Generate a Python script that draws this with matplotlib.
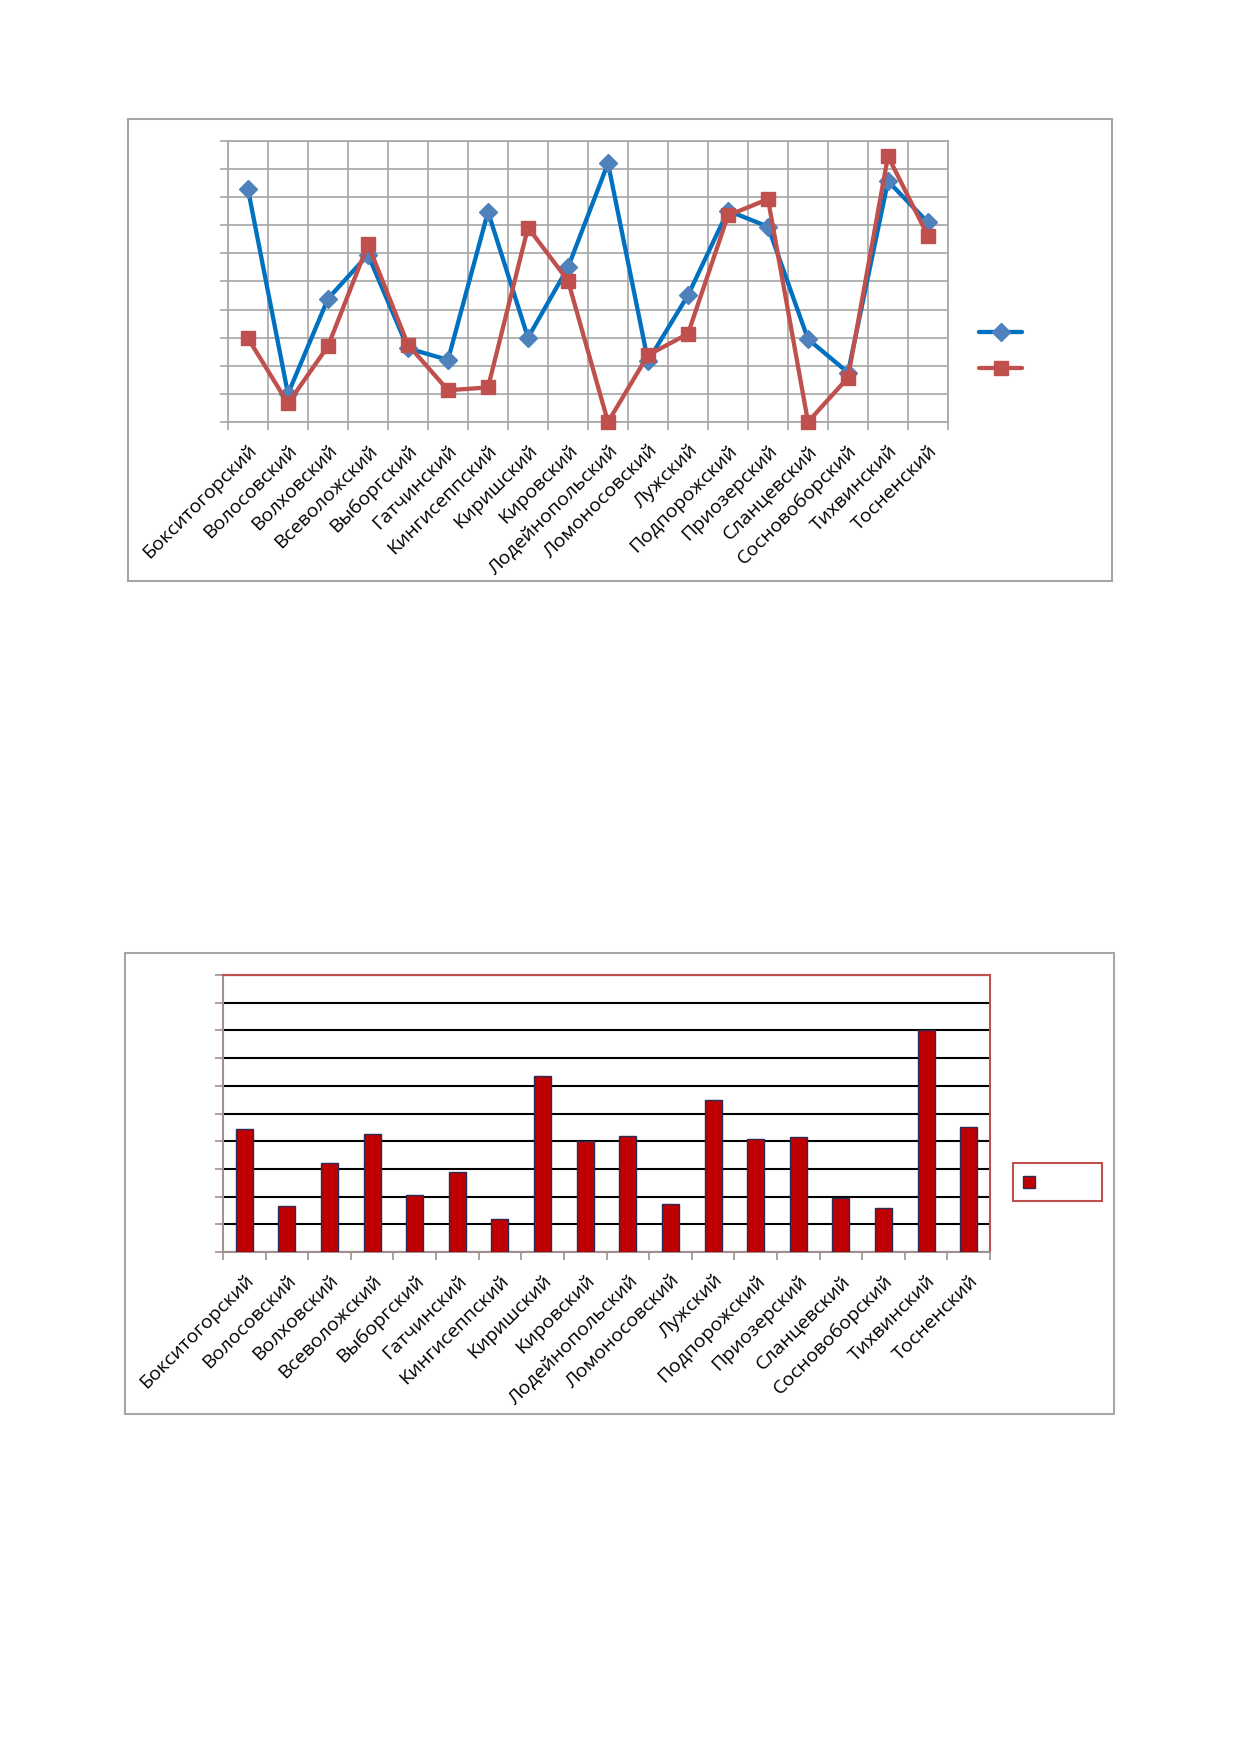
import matplotlib
matplotlib.use("Agg")
import matplotlib.pyplot as plt
from matplotlib.patches import Rectangle
from matplotlib.lines import Line2D
import numpy as np

plt.rcParams["font.family"] = ["Open Sans", "DejaVu Sans"]

# districts (same order on both charts)
districts = ["Бокситогорский", "Волосовский", "Волховский", "Всеволожский",
             "Выборгский", "Гатчинский", "Кингисеппский", "Киришский",
             "Кировский", "Лодейнопольский", "Ломоносовский", "Лужский",
             "Подпорожский", "Приозерский", "Сланцевский", "Сосновоборский",
             "Тихвинский", "Тосненский"]

# top chart, two series (no axis labels in the source, read in grid units)
series_blue = [8.28, 1.0, 4.39, 5.95, 2.62, 2.21, 7.48, 3.0, 5.5, 9.21,
               2.17, 4.51, 7.52, 6.95, 2.95, 1.76, 8.57, 7.1]
series_red = [2.98, 0.66, 2.7, 6.32, 2.75, 1.13, 1.23, 6.92, 5.03, 0.0,
              2.38, 3.14, 7.35, 7.93, 0.0, 1.58, 9.46, 6.62]

# bottom chart, one series
series_bars = [4.45, 1.65, 3.2, 4.25, 2.06, 2.88, 1.2, 6.35, 4.0, 4.19,
               1.74, 5.49, 4.07, 4.14, 1.94, 1.58, 8.01, 4.52]

W, H = 1239, 1752
fig = plt.figure(figsize=(W / 100, H / 100), dpi=100)


def px_axes(x0, y0, x1, y1):
    # axes from pixel box (top-left origin)
    return fig.add_axes([x0 / W, 1 - y1 / H, (x1 - x0) / W, (y1 - y0) / H])


def px_box(x0, y0, x1, y1, ec, lw=1.5, z=0):
    fig.patches.append(Rectangle((x0 / W, 1 - y1 / H), (x1 - x0) / W, (y1 - y0) / H,
                                 transform=fig.transFigure, facecolor="none",
                                 edgecolor=ec, linewidth=lw, zorder=z))


n = len(districts)
x = np.arange(n) + 0.5
grid_gray = "#a6a6a6"
lab_size = 14
lw_line = 3.1
ms_dia, ms_sq = 8.8, 10.5

# ---------------- top chart ----------------
px_box(128, 119, 1112, 581, grid_gray, lw=1.5)
ax = px_axes(228, 141, 948, 422)
ax.set_xlim(0, n)
ax.set_ylim(0, 10)
ax.set_xticks(np.arange(n + 1))
ax.set_xticklabels([])
ax.set_xticks(x, minor=True)
ax.set_xticklabels(districts, minor=True, rotation=45, ha="right", va="top",
                   rotation_mode="anchor", fontsize=lab_size)
ax.set_yticks(np.arange(11))
ax.set_yticklabels([])
ax.tick_params(which="major", length=6, width=1.2, color=grid_gray)
ax.tick_params(which="minor", length=0, pad=14)
ax.grid(True, which="major", color=grid_gray, linewidth=1.2)
ax.set_axisbelow(True)
for s in ax.spines.values():
    s.set_color(grid_gray)
    s.set_linewidth(1.2)

ax.plot(x, series_blue, color="#0070c0", linewidth=lw_line, marker="D",
        markersize=ms_dia, markerfacecolor="#4f81bd", markeredgecolor="#4f81bd",
        clip_on=False, zorder=3)
ax.plot(x, series_red, color="#c0504d", linewidth=lw_line, marker="s",
        markersize=ms_sq, markerfacecolor="#c0504d", markeredgecolor="#c0504d",
        clip_on=False, zorder=4)

# legend samples, no text
for yy, col, mk, mc, ms in [(332, "#0070c0", "D", "#4f81bd", ms_dia),
                            (368, "#c0504d", "s", "#c0504d", ms_sq)]:
    fig.lines.append(Line2D([979 / W, 1022 / W], [1 - yy / H, 1 - yy / H],
                            transform=fig.transFigure, color=col, linewidth=lw_line,
                            solid_capstyle="round"))
    fig.lines.append(Line2D([1000.5 / W], [1 - yy / H], transform=fig.transFigure,
                            marker=mk, markersize=ms, color=mc, linestyle="none"))

# ---------------- bottom chart ----------------
px_box(125, 953, 1114, 1414, grid_gray, lw=1.5)
bx = px_axes(223, 975, 990, 1252)
bx.set_xlim(0, n)
bx.set_ylim(0, 10)
bx.set_xticks(np.arange(n + 1))
bx.set_xticklabels([])
bx.set_xticks(x, minor=True)
bx.set_xticklabels(districts, minor=True, rotation=45, ha="right", va="top",
                   rotation_mode="anchor", fontsize=lab_size)
bx.set_yticks(np.arange(11))
bx.set_yticklabels([])
bx.tick_params(which="major", length=6, width=1.2, color="#a09090")
bx.tick_params(which="minor", length=0, pad=14)
bx.yaxis.grid(True, color="black", linewidth=1.5)
bx.set_axisbelow(True)
bx.spines["top"].set_color("#c0504d")
bx.spines["right"].set_color("#c0504d")
bx.spines["left"].set_color("#a09090")
bx.spines["bottom"].set_color("#a09090")
for s in bx.spines.values():
    s.set_linewidth(1.5)

bx.bar(x, series_bars, width=0.4, color="#c00000", edgecolor="#2b2b55",
       linewidth=1, zorder=3)

# legend box with only a swatch
px_box(1013, 1163, 1102, 1201, "#c0504d", lw=1.5, z=2)
fig.patches.append(Rectangle((1023 / W, 1 - 1188 / H), 12 / W, 12 / H,
                             transform=fig.transFigure, facecolor="#c00000",
                             edgecolor="#2b2b55", linewidth=1, zorder=3))

fig.savefig("out.png", dpi=100)
